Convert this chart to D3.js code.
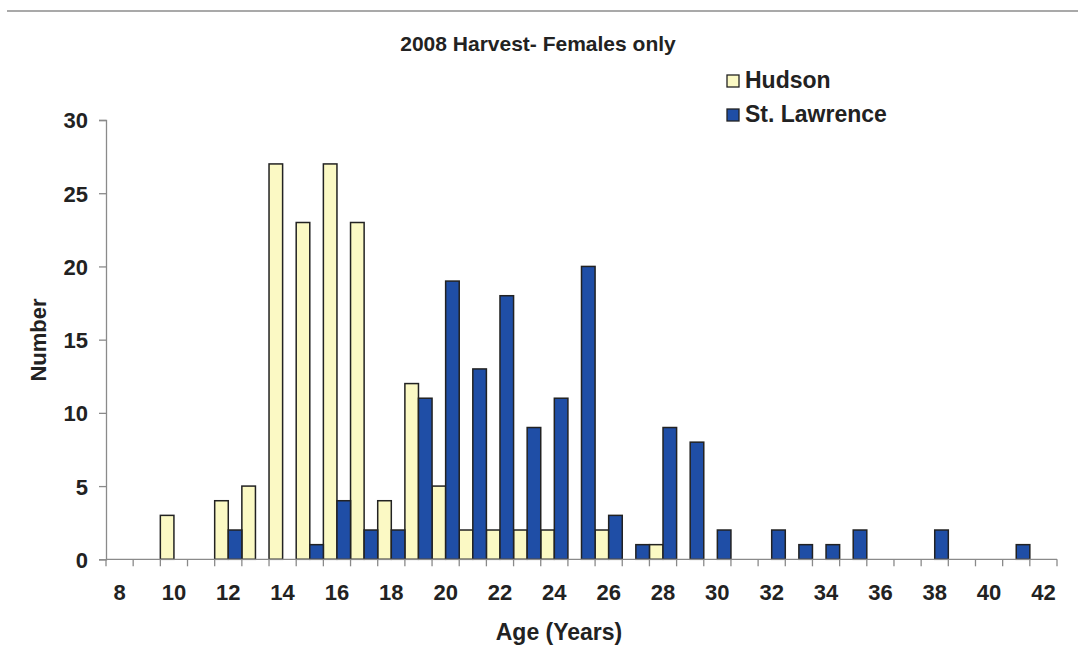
<!DOCTYPE html>
<html>
<head>
<meta charset="utf-8">
<script src="https://cdn.jsdelivr.net/npm/d3@7"></script>
<style>
  html, body { margin: 0; padding: 0; background: #ffffff; }
  svg text { font-family: "Liberation Sans", Arial, sans-serif; font-weight: bold; fill: #222; }
</style>
</head>
<body>
<svg id="chart" width="1078" height="670"></svg>
<script>
// Age classes (years) on the category axis
const ages = d3.range(8, 43);
// Number of females harvested per age class, 2008
const hudson = [0, 0, 3, 0, 4, 5, 27, 23, 27, 23, 4, 12, 5, 2, 2, 2, 2, 0, 2, 0, 1,
                0, 0, 0, 0, 0, 0, 0, 0, 0, 0, 0, 0, 0, 0];
const stLawrence = [0, 0, 0, 0, 2, 0, 0, 1, 4, 2, 2, 11, 19, 13, 18, 9, 11, 20, 3, 1, 9,
                    8, 2, 0, 2, 1, 1, 2, 0, 0, 2, 0, 0, 1, 0];
const seriesNames = ["Hudson", "St. Lawrence"];
const seriesColors = ["#fbf9c4", "#1f4ea6"];
const yTicks = [0, 5, 10, 15, 20, 25, 30];
const xTickLabels = ages.filter(a => a % 2 === 0);

const svg = d3.select("#chart");

// thin rule across the top of the page
svg.append("line")
  .attr("x1", 7).attr("x2", 1078).attr("y1", 11).attr("y2", 11)
  .attr("stroke", "#8c8c8c").attr("stroke-width", 1.5);

const x = d3.scaleBand().domain(ages).range([106, 1057]).padding(0);
const y = d3.scaleLinear().domain([0, 30]).range([559.3, 120]);

// one group per series, each bar takes half of its category slot
const sub = d3.scaleBand().domain([0, 1]).range([0, x.bandwidth()]).padding(0);
const series = [hudson, stLawrence];

series.forEach((vals, si) => {
  svg.append("g")
    .selectAll("rect")
    .data(ages.map((a, i) => ({ age: a, v: vals[i] })).filter(d => d.v > 0))
    .join("rect")
    .attr("x", d => x(d.age) + sub(si))
    .attr("width", sub.bandwidth())
    .attr("y", d => y(d.v))
    .attr("height", d => y(0) - y(d.v))
    .attr("fill", seriesColors[si])
    .attr("stroke", "#222")
    .attr("stroke-width", 1.5);
});

// y axis
const yAxis = svg.append("g")
  .attr("transform", "translate(106,0)")
  .call(d3.axisLeft(y).tickValues(yTicks).tickSize(7).tickPadding(11));
yAxis.select(".domain").attr("stroke", "#8a8a8a").attr("stroke-width", 1.3);
yAxis.selectAll(".tick line").attr("stroke", "#8a8a8a").attr("stroke-width", 1.3);
yAxis.selectAll(".tick text").style("font-size", "22px").attr("dy", "0.36em");

// x axis: ticks on category boundaries, labels on even ages
const xg = svg.append("g").attr("transform", `translate(0,${y(0)})`);
xg.append("line")
  .attr("x1", 106).attr("x2", 1057).attr("y1", 0).attr("y2", 0)
  .attr("stroke", "#8a8a8a").attr("stroke-width", 1.3);
xg.selectAll("line.tk")
  .data(ages.concat([43]))
  .join("line")
  .attr("class", "tk")
  .attr("x1", d => d === 43 ? x.range()[1] : x(d))
  .attr("x2", d => d === 43 ? x.range()[1] : x(d))
  .attr("y1", 0).attr("y2", 7)
  .attr("stroke", "#8a8a8a").attr("stroke-width", 1.3);
xg.selectAll("text")
  .data(xTickLabels)
  .join("text")
  .attr("x", d => x(d) + x.bandwidth() / 2)
  .attr("y", 41)
  .attr("text-anchor", "middle")
  .style("font-size", "22px")
  .text(d => d);

// titles
svg.append("text")
  .attr("x", 538).attr("y", 51)
  .attr("text-anchor", "middle")
  .style("font-size", "21px")
  .text("2008 Harvest- Females only");

svg.append("text")
  .attr("x", 559).attr("y", 640)
  .attr("text-anchor", "middle")
  .style("font-size", "23px")
  .text("Age (Years)");

svg.append("text")
  .attr("transform", "translate(46,340) rotate(-90)")
  .attr("text-anchor", "middle")
  .style("font-size", "22px")
  .text("Number");

// legend
const legend = svg.append("g").attr("transform", "translate(727,75)");
seriesNames.forEach((name, i) => {
  const row = legend.append("g").attr("transform", `translate(0,${i * 34})`);
  row.append("rect")
    .attr("x", 0).attr("y", 0).attr("width", 12).attr("height", 12)
    .attr("fill", seriesColors[i])
    .attr("stroke", "#222").attr("stroke-width", 1.3);
  row.append("text")
    .attr("x", 18).attr("y", 13)
    .style("font-size", "23px")
    .text(name);
});
</script>
</body>
</html>
